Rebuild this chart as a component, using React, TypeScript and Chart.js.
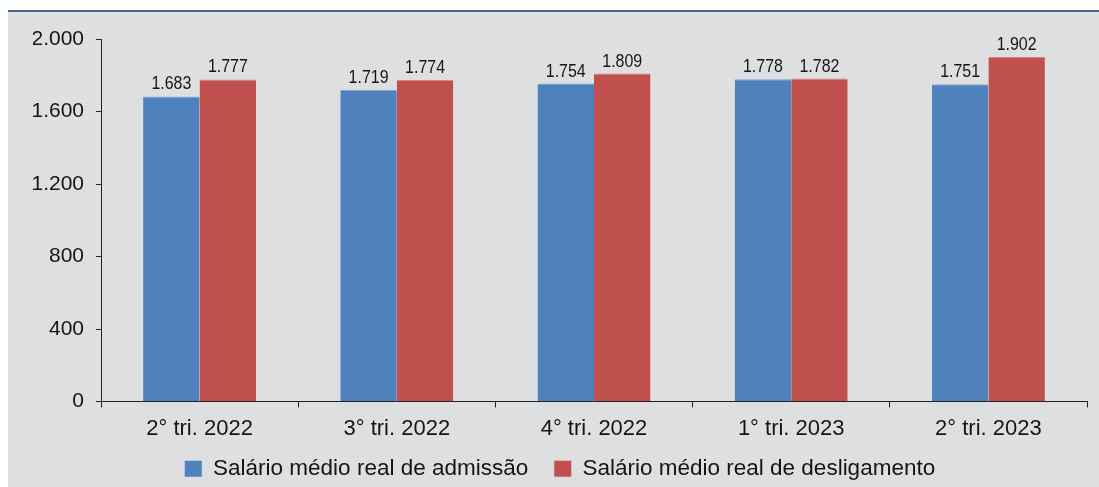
import React, { useEffect, useRef } from "react";
import { Chart, registerables } from "chart.js";

Chart.register(...registerables);

const categories = ["2° tri. 2022", "3° tri. 2022", "4° tri. 2022", "1° tri. 2023", "2° tri. 2023"];
const admissao = [1683, 1719, 1754, 1778, 1751];
const desligamento = [1777, 1774, 1809, 1782, 1902];
const seriesNames = ["Salário médio real de admissão", "Salário médio real de desligamento"];
const yTicks = [0, 400, 800, 1200, 1600, 2000];

const fmt = (v: number) => v.toLocaleString("de-DE");

const TICK_FONT = "'Liberation Sans', Arial, sans-serif";
const LABEL_FONT = "'Liberation Sans', Arial, sans-serif";

const dataLabels = {
  id: "dataLabels",
  afterDatasetsDraw(chart: any) {
    const ctx = chart.ctx;
    chart.data.datasets.forEach((ds: any, i: number) => {
      const meta = chart.getDatasetMeta(i);
      meta.data.forEach((bar: any, j: number) => {
        ctx.save();
        ctx.font = `19px ${LABEL_FONT}`;
        ctx.fillStyle = "#151515";
        ctx.textAlign = "center";
        ctx.textBaseline = "alphabetic";
        ctx.translate(bar.x, bar.y - 7);
        ctx.scale(0.84, 1);
        ctx.fillText(fmt(ds.data[j]), 0, 0);
        ctx.restore();
      });
    });
  },
};

export default function App() {
  const ref = useRef<HTMLCanvasElement>(null);
  useEffect(() => {
    document.body.style.margin = "0";
    const chart = new Chart(ref.current!, {
      type: "bar",
      data: {
        labels: categories,
        datasets: [
          {
            label: seriesNames[0],
            data: admissao,
            backgroundColor: "#4f81bd",
            borderColor: "#7fa3d3",
            borderWidth: { top: 1, left: 0, right: 0, bottom: 0 },
            categoryPercentage: 0.573,
            barPercentage: 1,
          },
          {
            label: seriesNames[1],
            data: desligamento,
            backgroundColor: "#c0504d",
            borderColor: "#d98583",
            borderWidth: { top: 1, left: 0, right: 0, bottom: 0 },
            categoryPercentage: 0.573,
            barPercentage: 1,
          },
        ],
      },
      options: {
        animation: false,
        responsive: true,
        maintainAspectRatio: false,
        layout: { padding: { top: 27, right: 12, left: 25, bottom: 0 } },
        plugins: {
          title: { display: false },
          tooltip: { enabled: false },
          legend: {
            position: "bottom",
            labels: {
              boxWidth: 17,
              boxHeight: 16,
              padding: 26,
              color: "#151515",
              font: { family: TICK_FONT, size: 22.5 },
            },
          },
        },
        scales: {
          x: {
            grid: { display: true, drawOnChartArea: false, drawTicks: true, tickLength: 6, color: "#222" },
            border: { color: "#222", width: 1 },
            ticks: { color: "#151515", font: { family: TICK_FONT, size: 22 }, padding: 8 },
            afterFit: (s: any) => {
              s.height = 30;
              s._computeLabelArea = () => undefined;
            },
          },
          y: {
            min: 0,
            max: 2000,
            afterBuildTicks: (s: any) => {
              s.ticks = yTicks.map((v) => ({ value: v }));
            },
            grid: { display: true, drawOnChartArea: false, drawTicks: true, tickLength: 5, color: "#222" },
            border: { color: "#222", width: 1 },
            ticks: {
              color: "#151515",
              font: { family: TICK_FONT, size: 21 },
              padding: 12,
              callback: (v: any) => fmt(Number(v)),
            },
            afterFit: (s: any) => {
              s.width = 68;
            },
          },
        },
      },
      plugins: [dataLabels],
    });
    return () => chart.destroy();
  }, []);

  return (
    <div style={{ position: "relative", width: 1099, height: 487, background: "#fff", overflow: "hidden" }}>
      <div style={{ position: "absolute", left: 8, right: 0, top: 10, height: 2, background: "#43678a" }} />
      <div style={{ position: "absolute", left: 8, right: 0, top: 12, bottom: 0, background: "#dedfe1", overflow: "hidden" }}>
        <div style={{ position: "relative", width: 1091, height: 478 }}>
          <canvas ref={ref} />
        </div>
      </div>
    </div>
  );
}
